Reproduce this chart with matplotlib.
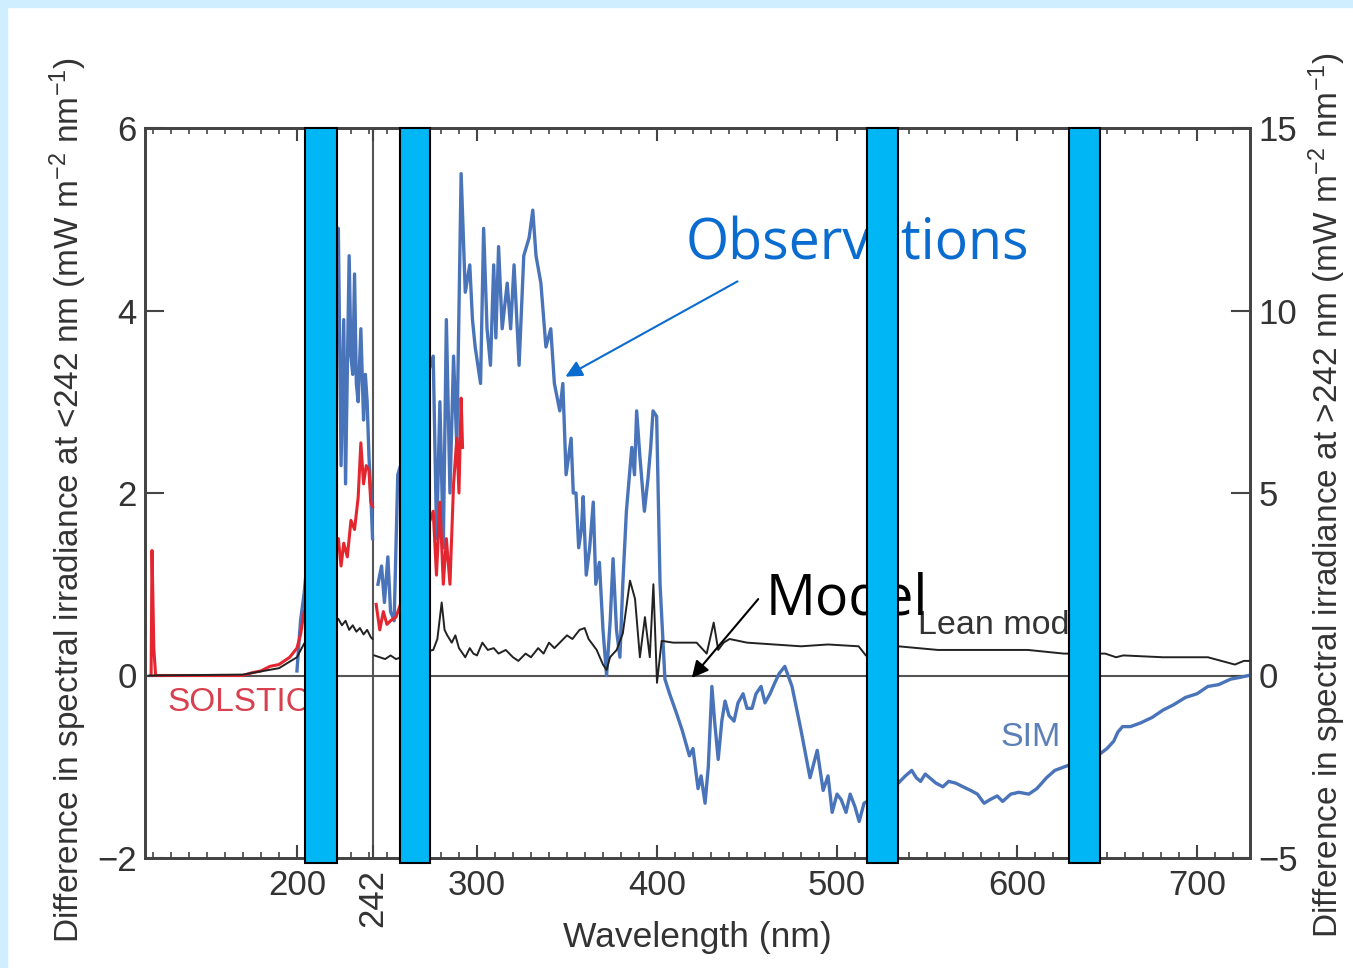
import matplotlib
matplotlib.use("Agg")
import matplotlib.pyplot as plt
from matplotlib.patches import Rectangle
from matplotlib.ticker import MultipleLocator

plt.rcParams['font.family'] = ['Liberation Sans', 'DejaVu Sans']
plt.rcParams['mathtext.default'] = 'regular'

# --- data: wavelengths below 242 nm are on the left axis (mW m-2 nm-1) ---
sol_wl_a = [119, 119.5, 120.5, 121.5, 123, 170, 175, 180, 185, 190, 196, 200, 202, 204,
            223, 224.5, 226, 228, 230, 232, 234, 235.5, 237, 238.5, 240, 241, 242]
sol_a = [0, 1.37, 0.3, 0.0, 0.0, 0.0, 0.03, 0.05, 0.1, 0.12, 0.2, 0.3, 0.45, 0.7,
         1.5, 1.2, 1.45, 1.3, 1.7, 1.6, 1.95, 2.55, 2.1, 2.3, 2.25, 1.9, 1.85]

sim_wl_a = [200, 202, 204, 223, 224.5, 226, 227, 229, 230, 231, 232, 233, 234,
            235.5, 237, 238, 239, 240, 241, 242]
sim_a = [0.05, 0.6, 0.9, 4.9, 2.3, 3.9, 2.1, 4.6, 3.5, 3.3, 4.4, 3.2, 3.0,
         3.8, 2.8, 3.3, 3.0, 2.4, 2.0, 1.5]

lean_wl_a = [118, 170, 190, 200, 204, 223, 225, 227, 229, 231, 233, 235, 237, 239, 241, 242]
lean_a = [0, 0.01, 0.08, 0.2, 0.35, 0.62, 0.55, 0.6, 0.5, 0.55, 0.48, 0.52, 0.45, 0.5, 0.42, 0.4]

# --- wavelengths above 242 nm are on the right axis ---
sol_wl_b = [244, 246, 248, 250, 252, 255, 275.7, 277.5, 279.4, 281.3, 283, 285, 287,
            288.8, 290, 291.2, 292]
sol_b = [1.95, 1.25, 1.75, 1.4, 1.5, 1.6, 4.5, 2.75, 4.75, 2.5, 3.75, 2.5, 5.25,
         6.5, 5.0, 7.6, 6.25]

sim_wl_b = [245, 247, 248.6, 250.5, 252, 254, 256, 275.7, 277.6, 279.4, 281.3, 283, 285,
            287, 288.8, 291.2, 293.5, 296, 297.5, 299, 302, 303.7, 305.6, 307.5, 309.3,
            310.5, 312, 314, 316.8, 318.7, 320.6, 323.4, 326, 329, 331, 332.8, 335.5,
            338.3, 341, 343, 346, 347.7, 349.5, 352.3, 353.5, 355, 356.5, 358, 359,
            360.7, 362.6, 364.6, 366, 368, 370, 372, 374, 375.6, 377.5, 379.4, 381, 383,
            386, 387.5, 388.7, 390.5, 393, 395, 396.5, 397.8, 399.8, 401.7, 404.4, 407,
            410.6, 414, 418, 420, 422.8, 424.5, 426.7, 428.5, 430.5, 432, 434, 436, 437.8,
            440, 442.8, 445, 447.8, 450, 452.8, 455, 457.8, 460, 462.8, 465, 467.8, 471,
            475, 480, 485, 489, 492.3, 495, 497.3, 500, 502.3, 505, 507.3, 510, 512.3, 515,
            534, 538, 541.5, 544, 546.4, 549, 551.4, 555, 558.8, 562, 566, 570, 574.3, 578,
            581.7, 585, 589, 592, 596.5, 601, 606.5, 611, 616.4, 621, 626.4, 646, 650,
            653.7, 656, 658.6, 663, 668.6, 675, 681, 687, 693.6, 700, 706, 712, 718.6,
            724, 728.6]
sim_b = [2.5, 3.0, 2.0, 3.25, 1.75, 1.5, 5.5, 8.75, 3.75, 7.5, 3.5, 9.75, 5.0,
         8.75, 6.25, 13.75, 10.5, 11.25, 9.75, 9.0, 8.0, 12.25, 9.5, 8.5, 11.25,
         9.25, 11.75, 9.5, 10.75, 9.5, 11.25, 8.5, 11.5, 12.0, 12.75, 11.5, 10.75,
         9.0, 9.5, 8.0, 7.25, 8.0, 5.5, 6.5, 5.0, 5.0, 3.5, 4.0, 4.9,
         2.75, 3.5, 4.75, 2.5, 3.1, 1.25, 0.0, 1.5, 3.2, 1.25, 0.5, 2.5, 4.5,
         6.25, 5.5, 7.25, 6.0, 4.5, 5.4, 6.25, 7.25, 7.1, 2.5, -0.1, -0.5,
         -1.0, -1.5, -2.2, -2.0, -3.1, -2.75, -3.5, -2.5, -0.3, -1.25, -2.3, -1.25, -0.7,
         -1.1, -1.25, -0.75, -0.5, -0.9, -0.9, -0.5, -0.3, -0.75, -0.5, -0.25, 0.05, 0.25,
         -0.3, -1.5, -2.8, -2.05, -3.15, -2.75, -3.75, -3.25, -3.4, -3.75, -3.25, -3.6, -4.0, -3.5,
         -2.95, -2.75, -2.6, -2.8, -2.9, -2.7, -2.8, -2.95, -3.05, -2.9, -2.95, -3.05, -3.15, -3.25,
         -3.5, -3.4, -3.3, -3.45, -3.25, -3.2, -3.25, -3.1, -2.8, -2.6, -2.5, -2.15, -2.0,
         -1.8, -1.55, -1.4, -1.4, -1.3, -1.15, -0.95, -0.8, -0.6, -0.5, -0.3, -0.25, -0.1,
         -0.05, 0.0]

lean_wl_b = [243, 246, 249, 252, 255, 258, 275.7, 278, 280.4, 282, 283.5, 286, 288, 290,
             293.5, 296, 298, 300, 303, 306, 309.3, 312, 316, 320, 323, 327, 330, 334, 337,
             340, 343, 346, 350, 353, 357, 359.8, 362, 366.5, 370, 372, 373.9, 377.6, 381,
             385, 387.8, 390.5, 393.3, 396, 398, 400, 402.6, 409, 416.5, 422, 427.6, 431.5,
             434, 437, 440.3, 450, 465, 480, 495, 512, 516, 534, 556, 582, 606, 626, 649,
             655, 659, 681, 706, 721, 726, 729]
lean_b = [0.55, 0.5, 0.45, 0.55, 0.45, 0.5, 0.7, 1.0, 2.0, 1.25, 1.1, 0.9, 1.1, 0.75,
          0.5, 0.75, 0.6, 0.55, 0.9, 0.7, 0.75, 0.6, 0.7, 0.5, 0.4, 0.6, 0.5, 0.75, 0.6,
          0.9, 0.75, 0.9, 1.1, 1.0, 1.25, 1.3, 1.0, 0.7, 0.3, 0.15, 0.5, 0.7, 1.15,
          2.6, 2.1, 0.5, 1.6, 0.5, 2.5, -0.2, 0.95, 0.9, 0.9, 0.9, 0.6, 1.45,
          0.7, 0.9, 1.0, 0.9, 0.85, 0.8, 0.85, 0.8, 0.55, 0.8, 0.7, 0.7, 0.7, 0.6, 0.6,
          0.5, 0.55, 0.5, 0.5, 0.3, 0.4, 0.4]

xticks = [200, 242, 300, 400, 500, 600, 700]
# wavelength bands hidden by the slide's cyan boxes
boxes = [(204.4, 222.2), (257.2, 273.9), (516.7, 533.9), (628.9, 646.1)]

W, H = 1353, 968
fig = plt.figure(figsize=(W / 100, H / 100), dpi=100)
fig.patches.append(Rectangle((0, 0), 7 / W, 1, transform=fig.transFigure,
                             color='#cfeeff', zorder=0))
fig.patches.append(Rectangle((0, 1 - 7 / H), 1, 7 / H, transform=fig.transFigure,
                             color='#cfeeff', zorder=0))

ax = fig.add_axes([145 / W, 1 - 858 / H, 1105 / W, 730 / H])
ax.set_xlim(115.6, 729.4)
ax.set_ylim(-2, 6)
ax2 = ax.twinx()
ax2.set_ylim(-5, 15)

blue = '#4a74b9'
red = '#e3262f'
dark = '#333333'

ax.axhline(0, color='#555555', lw=1.5, zorder=1)
ax.axvline(242, color='#555555', lw=1.5, zorder=1)

ax.plot(sim_wl_a, sim_a, color=blue, lw=2.4, zorder=2)
ax.plot(sol_wl_a, sol_a, color=red, lw=2.2, zorder=3)
ax.plot(lean_wl_a, lean_a, color='#222222', lw=1.4, zorder=4)
ax2.plot(sim_wl_b, sim_b, color=blue, lw=2.4, zorder=2)
ax2.plot(sol_wl_b, sol_b, color=red, lw=2.2, zorder=3)
ax2.plot(lean_wl_b, lean_b, color='#222222', lw=1.4, zorder=4)

for sp in list(ax.spines.values()) + list(ax2.spines.values()):
    sp.set_color('#444444')
    sp.set_linewidth(2)

ax.set_xticks(xticks)
ax.set_xticklabels([str(v) for v in xticks])
ax.get_xticklabels()[1].set_rotation(90)
ax.xaxis.set_minor_locator(MultipleLocator(10))
ax.tick_params(axis='x', which='major', direction='in', top=True, length=9.5, width=1.5,
               labelsize=25, labelcolor=dark, pad=8, color='#444444')
ax.tick_params(axis='x', which='minor', direction='in', top=True, length=4.5, width=1.2,
               color='#444444')
ax.set_yticks([-2, 0, 2, 4, 6])
ax.tick_params(axis='y', direction='in', right=False, length=14, width=1.5,
               labelsize=25, labelcolor=dark, pad=6, color='#444444')
ax2.set_yticks([-5, 0, 5, 10, 15])
ax2.tick_params(axis='y', direction='in', length=14, width=1.5,
                labelsize=25, labelcolor=dark, pad=6, color='#444444')

fig.text(68 / W, 1 - 500 / H,
         'Difference in spectral irradiance at <242 nm (mW m$^{-2}$ nm$^{-1}$)',
         rotation=90, ha='center', va='center', fontsize=24, color=dark)
fig.text(1327 / W, 1 - 495 / H,
         'Difference in spectral irradiance at >242 nm (mW m$^{-2}$ nm$^{-1}$)',
         rotation=90, ha='center', va='center', fontsize=24, color=dark)
fig.text(697 / W, 1 - 938 / H, 'Wavelength (nm)', ha='center', va='center',
         fontsize=25.5, color=dark)

# labels inside the plot
ax2.text(128.3, -0.39, 'SOLSTICE', transform=ax.transData, fontsize=24,
         color='#d9404f', va='baseline', zorder=5)
ax2.text(545, 0.45, 'Lean model', transform=ax.transData, fontsize=24.5,
         color=dark, va='baseline', zorder=5)
ax2.text(590.6, -0.77, 'SIM', transform=ax.transData, fontsize=24.5,
         color='#5b7fb8', va='baseline', zorder=5)

# slide annotations
ax2.text(686 / W, 1 - 260 / H, 'Observations', transform=fig.transFigure,
         family='Open Sans', fontsize=40, color='#0a6ccf', va='baseline', zorder=6)
ax2.text(766 / W, 1 - 615 / H, 'Model', transform=fig.transFigure,
         family='Open Sans', fontsize=40, color='black', va='baseline', zorder=6)
ax2.annotate('', xy=(563 / W, 1 - 378 / H), xytext=(740 / W, 1 - 280 / H),
             xycoords='figure fraction', textcoords='figure fraction',
             arrowprops=dict(arrowstyle='-|>', color='#0a6ccf', lw=1.5,
                             mutation_scale=25), zorder=6)
ax2.annotate('', xy=(690 / W, 1 - 680 / H), xytext=(760 / W, 1 - 597 / H),
             xycoords='figure fraction', textcoords='figure fraction',
             arrowprops=dict(arrowstyle='-|>', color='black', lw=1.5,
                             mutation_scale=25), zorder=6)

for x0, x1 in boxes:
    ax2.add_patch(Rectangle((x0, -2.06), x1 - x0, 8.06, transform=ax.transData,
                            facecolor='#00b6f4', edgecolor='black', lw=1.5,
                            clip_on=False, zorder=10))

fig.savefig('out.png', dpi=100)
